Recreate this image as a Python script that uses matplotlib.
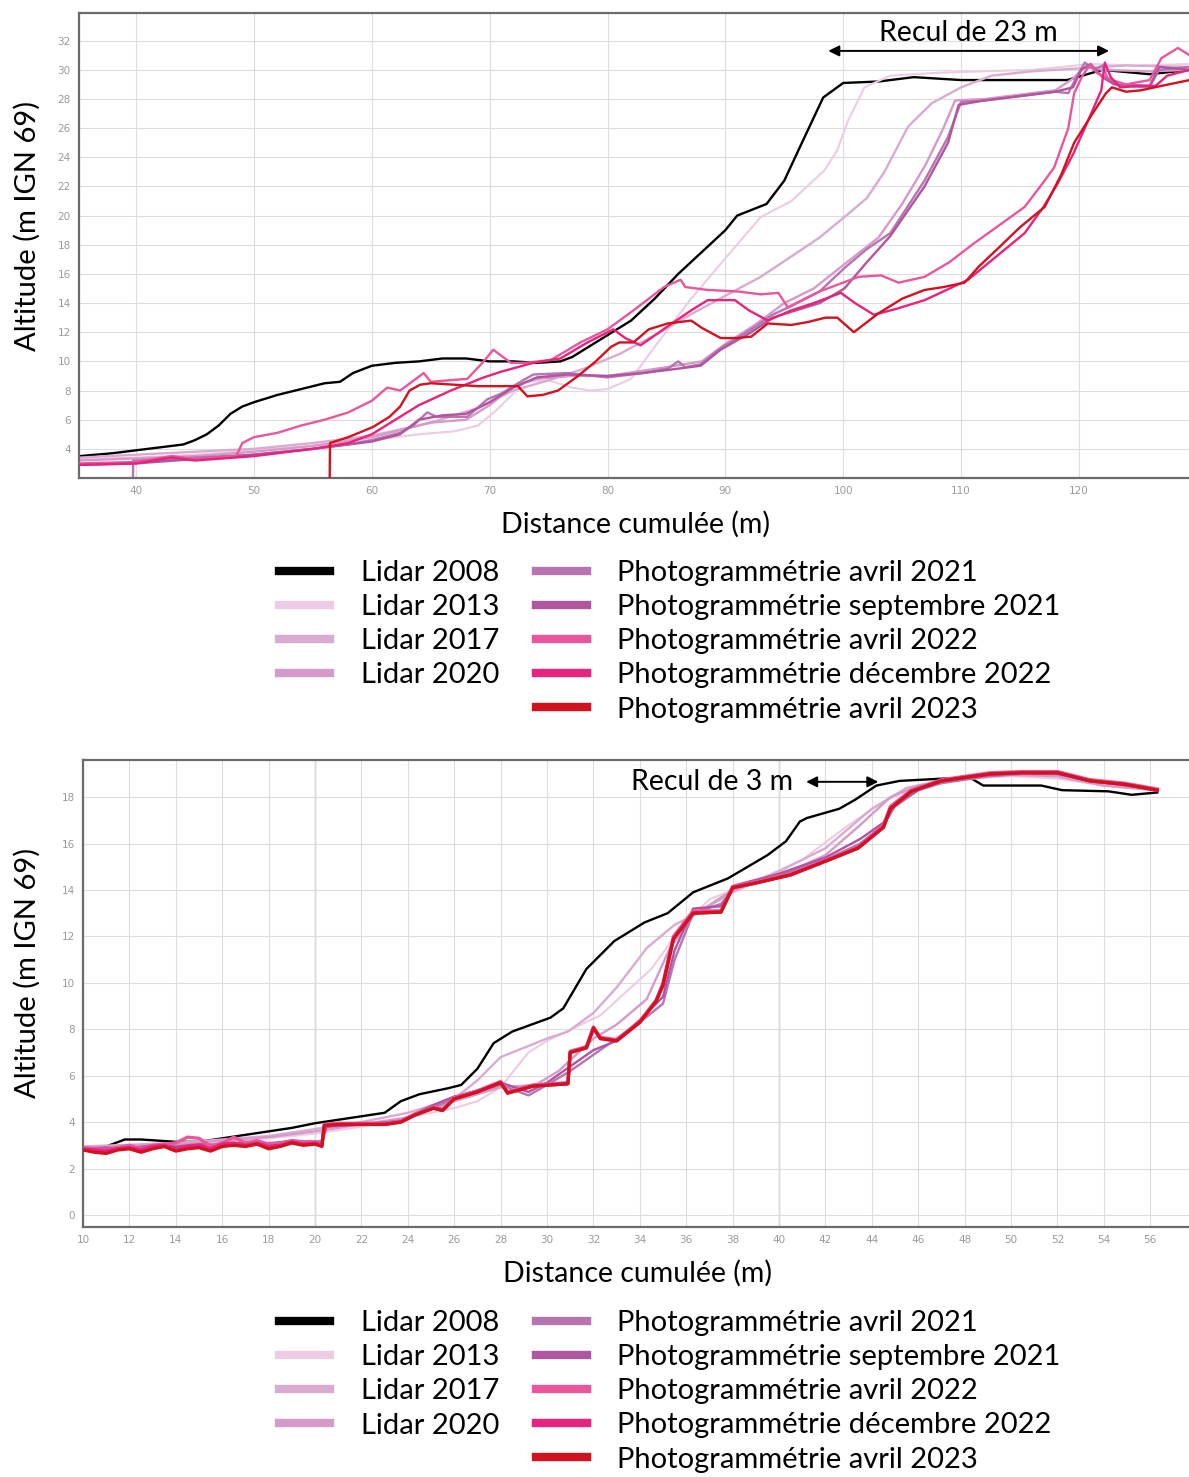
import numpy as np
import matplotlib.pyplot as plt
from matplotlib.lines import Line2D

plt.rcParams['font.family'] = ['Lato', 'DejaVu Sans']

# --- series names / colours -------------------------------------------------
names = ["Lidar 2008", "Lidar 2013", "Lidar 2017", "Lidar 2020",
         "Photogrammétrie avril 2021", "Photogrammétrie septembre 2021",
         "Photogrammétrie avril 2022", "Photogrammétrie décembre 2022",
         "Photogrammétrie avril 2023"]
colors = ["#000000", "#EDCBE2", "#DAAAD0", "#D69AC8",
          "#B873B1", "#B0559F", "#EA569B", "#E8227D", "#D2121F"]

# --- top profile (Distance cumulée 35 - 129 m) ------------------------------
top_x_2008 = [35.2, 38, 40, 42, 44, 45, 46, 47, 48, 49, 50, 52, 54, 56, 57.3, 58.4, 60, 62, 64, 66,
              68, 70, 72, 74, 76, 77, 78, 80, 82, 84, 86, 88, 90, 91, 93.5, 95, 96.5, 98.3, 100,
              103, 106, 110, 115, 119, 122, 126, 129.4]
top_y_2008 = [3.5, 3.7, 3.9, 4.1, 4.3, 4.6, 5.0, 5.6, 6.4, 6.9, 7.2, 7.7, 8.1, 8.5, 8.6, 9.2, 9.7,
              9.9, 10.0, 10.2, 10.2, 10.0, 10.0, 9.9, 10.0, 10.3, 10.8, 11.8, 12.8, 14.3, 16.0, 17.5,
              19.0, 20.0, 20.8, 22.4, 25.0, 28.1, 29.1, 29.2, 29.5, 29.3, 29.3, 29.3, 30.0, 29.7, 30.0]

top_x_2013 = [35.2, 40, 45, 50, 55, 60, 64, 67, 69, 70.5, 72, 73, 75, 77, 78.5, 80, 82, 84, 87,
              89.6, 93, 95.6, 98.4, 99.5, 100.4, 101.8, 104, 108, 112, 116, 121, 125, 129.4]
top_y_2013 = [3.3, 3.4, 3.6, 3.9, 4.2, 4.6, 5.0, 5.2, 5.6, 6.6, 7.8, 8.6, 8.7, 8.2, 8.0, 8.1, 8.8,
              11.0, 14.2, 16.7, 19.9, 21.0, 23.1, 24.5, 26.5, 28.8, 29.6, 29.8, 29.9, 30.0, 30.4,
              30.3, 30.4]

top_x_2017 = [35.2, 40, 45, 50, 55, 60, 65, 69, 72, 75, 78, 81, 84, 87, 90, 93, 95.6, 98, 100.1,
              102, 103.5, 105.5, 107.5, 110, 112.6, 116, 120, 124, 129.4]
top_y_2017 = [3.4, 3.6, 3.8, 4.0, 4.4, 4.9, 5.8, 6.8, 8.0, 8.7, 9.5, 10.5, 11.8, 13.2, 14.5, 15.8,
              17.2, 18.5, 19.9, 21.2, 23.0, 26.1, 27.7, 28.8, 29.6, 29.9, 30.1, 30.3, 30.2]

top_x_2020 = [35.2, 45, 50, 55, 60, 65, 68, 70, 72, 74, 77, 80, 85, 88, 90, 92.5, 95, 97.5, 100,
              103, 105, 107, 108.5, 109.5, 112, 115, 118, 119.5, 120.5, 122, 126, 129.4]
top_y_2020 = [3.2, 3.5, 3.8, 4.2, 4.8, 5.8, 6.0, 7.0, 8.3, 8.8, 9.0, 9.0, 9.6, 10.0, 11.2, 12.5,
              14.0, 15.0, 16.6, 18.5, 20.8, 23.5, 26.0, 27.9, 28.0, 28.3, 28.6, 29.4, 30.2, 30.0,
              29.9, 30.0]

top_x_a2021 = [39.7, 39.75, 42, 45, 50, 55, 58, 60, 62.4, 63.5, 64.7, 65.5, 68.1, 69.8, 71, 72.4,
               73.7, 76.6, 80, 83, 85.1, 86, 86.6, 87.9, 89.6, 92.2, 94, 95.6, 98, 100.1, 102, 104,
               106.9, 108.9, 110, 112, 114, 116, 118, 119.1, 119.8, 120.5, 121.3, 122, 122.5,
               123.5, 126, 126.8, 129.4]
top_y_a2021 = [0.0, 3.2, 3.25, 3.4, 3.6, 4.0, 4.3, 4.6, 5.1, 5.6, 6.5, 6.2, 6.2, 7.4, 7.8, 8.5,
               9.1, 9.2, 8.9, 9.2, 9.5, 10.0, 9.6, 9.8, 10.9, 12.2, 13.2, 13.8, 14.8, 16.4, 17.7,
               18.8, 22.4, 25.4, 27.8, 27.9, 28.1, 28.3, 28.5, 28.4, 29.5, 30.5, 30.0, 30.3, 29.3,
               28.9, 28.8, 30.0, 30.2]

top_x_s2021 = [35.2, 40, 45, 50, 55, 60, 62.4, 64, 66, 68, 70, 72, 74, 76.6, 80, 83, 85, 87.9,
               89.6, 92.2, 94, 95.6, 98, 100.1, 102, 104, 106.9, 108.9, 109.8, 112, 115, 118,
               119.5, 120.2, 121, 122, 123, 126, 126.8, 129.4]
top_y_s2021 = [2.9, 3.0, 3.3, 3.6, 4.0, 4.5, 5.0, 6.0, 6.3, 6.4, 7.2, 8.2, 8.9, 9.1, 9.0, 9.2, 9.4,
               9.7, 10.8, 12.0, 13.0, 13.4, 14.0, 15.0, 16.8, 18.6, 22.0, 25.0, 27.6, 27.9, 28.2,
               28.5, 28.8, 30.0, 30.4, 29.5, 29.0, 28.9, 30.2, 30.0]

top_x_a2022 = [35.2, 40, 43, 45, 48.5, 49, 50, 52, 54, 56, 58, 60, 61.3, 62.4, 64.4, 65, 66.5, 68.1,
               69.5, 70.3, 71.8, 73, 75.2, 77.7, 80, 82.2, 84.8, 86.2, 86.6, 88.5, 91, 93, 94.5,
               95.3, 96.5, 98, 101.3, 103.2, 104.7, 106.9, 109, 111.1, 113, 115.4, 117, 117.9,
               119.1, 119.6, 120.3, 121, 121.5, 122.8, 124, 126, 127, 128.4, 129.4]
top_y_a2022 = [3.0, 3.1, 3.5, 3.3, 3.5, 4.4, 4.8, 5.1, 5.6, 6.0, 6.5, 7.3, 8.2, 8.0, 9.2, 8.6, 8.7,
               8.8, 10.0, 10.8, 9.9, 9.9, 10.1, 11.3, 12.2, 13.5, 15.1, 15.6, 15.1, 14.9, 14.8,
               14.6, 14.7, 13.7, 14.2, 14.8, 15.8, 15.9, 15.4, 15.8, 16.8, 18.1, 19.2, 20.6, 22.3,
               23.3, 26.0, 28.4, 29.6, 30.4, 29.8, 29.3, 29.0, 29.3, 30.8, 31.5, 31.0]

top_x_d2022 = [35.2, 40, 43, 45, 50, 55, 58, 60, 62.4, 64, 66.7, 69.5, 71, 73.7, 76, 78.3, 80.5,
               81.5, 82.8, 85.1, 87.1, 88.5, 90.8, 92, 93.6, 95.6, 97.5, 99.8, 101, 102.6, 104.5,
               106.9, 108.5, 110.6, 113, 115.4, 117, 118.2, 119.5, 120.5, 121.9, 122.2, 122.7,
               123.5, 125, 126.5, 127.5, 129.4]
top_y_d2022 = [2.9, 3.0, 3.4, 3.2, 3.5, 4.0, 4.4, 5.0, 6.2, 7.0, 8.0, 8.9, 9.3, 9.9, 10.2, 11.3,
               12.2, 11.6, 11.1, 12.4, 13.5, 14.2, 14.2, 13.5, 12.8, 13.5, 14.0, 14.7, 14.0, 13.2,
               13.6, 14.2, 14.8, 15.6, 17.2, 18.8, 20.6, 22.2, 24.2, 26.0, 28.6, 30.5, 29.5, 28.8,
               28.9, 28.9, 29.6, 30.0]

top_x_a2023 = [56.4, 56.45, 58, 60.1, 61.5, 62.4, 63.2, 64.1, 65, 67, 69, 70.5, 72.4, 73.2, 74.5,
               75.8, 77.5, 79, 80.3, 81, 82.2, 83.5, 85.1, 87.1, 88, 89.6, 91, 92.2, 93.6, 95.6,
               97, 98.5, 99.5, 100.9, 103, 105, 106.9, 108.5, 110.3, 111.5, 113.2, 115, 117.1,
               118.5, 119.6, 121, 122.3, 122.8, 124, 125.3, 127, 129.4]
top_y_a2023 = [0.0, 4.4, 4.8, 5.5, 6.2, 6.9, 8.0, 8.4, 8.5, 8.4, 8.3, 8.3, 8.3, 7.6, 7.7, 8.0, 9.0,
               10.0, 11.0, 11.3, 11.3, 12.2, 12.6, 12.8, 12.3, 11.6, 11.6, 11.7, 12.6, 12.5, 12.7,
               13.0, 13.0, 12.0, 13.3, 14.3, 14.9, 15.1, 15.4, 16.5, 17.8, 19.2, 20.6, 22.8, 25.0,
               26.8, 28.4, 28.8, 28.5, 28.6, 28.9, 29.3]

# --- bottom profile (Distance cumulée 10 - 57 m) ----------------------------
bot_x_2008 = [10, 11, 11.8, 12.5, 14, 15, 16, 17, 18, 19, 20, 21, 22, 23, 23.7, 24.5, 25.7, 26.3,
              27, 27.7, 28.5, 30.15, 30.7, 31.7, 32.9, 34.2, 35.2, 36.3, 37.8, 39.5, 40.3, 40.9,
              41.2, 42.6, 43.3, 44.2, 45.2, 47.1, 48.3, 48.8, 51.3, 52.2, 54.2, 55.2, 56.3]
bot_y_2008 = [2.9, 2.95, 3.25, 3.25, 3.15, 3.15, 3.3, 3.45, 3.6, 3.75, 3.95, 4.1, 4.25, 4.4, 4.9,
              5.2, 5.45, 5.6, 6.3, 7.4, 7.9, 8.5, 8.9, 10.6, 11.8, 12.6, 13.0, 13.9, 14.5, 15.5,
              16.1, 16.95, 17.1, 17.5, 17.9, 18.5, 18.7, 18.8, 18.8, 18.5, 18.5, 18.3, 18.25,
              18.1, 18.2]

bot_x_2013 = [10, 14, 18, 20, 22, 24, 26, 27, 28, 29.2, 30, 32.3, 34.5, 35.8, 37, 39, 41, 43,
              44.5, 46, 48, 50, 52, 54, 56.3]
bot_y_2013 = [2.9, 3.0, 3.3, 3.5, 3.8, 4.2, 4.6, 4.9, 5.5, 7.0, 7.5, 8.6, 10.6, 12.4, 13.6, 14.4,
              15.3, 16.8, 17.8, 18.5, 18.8, 18.9, 18.8, 18.5, 18.3]

bot_x_2017 = [10, 14, 18, 20, 22, 24, 26, 27, 28, 30, 30.9, 32, 33, 34.3, 35.5, 36.3, 38, 40, 42,
              44, 45.5, 47, 50, 52, 54, 56.3]
bot_y_2017 = [2.95, 3.1, 3.4, 3.7, 4.0, 4.4, 5.0, 5.8, 6.8, 7.6, 7.9, 8.7, 9.8, 11.5, 12.5, 12.9,
              13.9, 14.8, 15.8, 17.5, 18.4, 18.7, 18.95, 18.9, 18.5, 18.3]

bot_x_2020 = [10, 14, 18, 20, 22, 24, 26, 28, 29.5, 30.5, 32, 33, 34.3, 35.3, 36.3, 38, 40, 42,
              43.5, 44.8, 46, 48, 50, 52, 54, 56.3]
bot_y_2020 = [2.9, 3.05, 3.35, 3.6, 3.9, 4.2, 4.9, 5.5, 5.6, 6.2, 7.6, 8.2, 9.3, 11.5, 12.9, 14.0,
              14.6, 15.5, 16.8, 18.0, 18.5, 18.8, 19.0, 18.9, 18.5, 18.3]

bot_x_a2021 = [10, 11, 12, 13, 14, 15, 16, 17, 18, 19, 20, 20.3, 20.5, 22, 23.7, 25, 26, 27, 28,
               29.2, 30, 31, 32, 33, 34, 35, 35.5, 36.3, 37.5, 38.1, 40, 42, 43.5, 44.5, 45, 46,
               47, 49, 50.5, 52, 53.4, 55, 56.3]
bot_y_a2021 = [2.8, 2.85, 2.9, 2.95, 2.9, 3.0, 3.05, 3.1, 3.1, 3.15, 3.15, 3.2, 3.85, 3.9, 4.0,
               4.6, 5.0, 5.3, 5.6, 5.15, 5.6, 6.2, 6.9, 7.6, 8.3, 9.1, 11.0, 13.0, 13.4, 14.1,
               14.6, 15.3, 16.0, 16.8, 17.6, 18.3, 18.6, 18.9, 19.0, 19.0, 18.7, 18.5, 18.3]

bot_x_s2021 = [10, 11, 12, 13, 14, 15, 16, 17, 18, 19, 20, 20.3, 20.5, 22, 23.7, 25, 26, 27, 28,
               29.2, 30, 31, 32, 33, 34, 35, 35.5, 36.3, 37.5, 38.1, 40, 42, 43.5, 44.5, 45, 46,
               47, 49, 50.5, 52, 53.4, 55, 56.3]
bot_y_s2021 = [2.85, 2.9, 2.85, 3.0, 2.95, 3.05, 3.0, 3.15, 3.05, 3.2, 3.1, 3.15, 3.8, 3.9, 4.05,
               4.7, 5.1, 5.35, 5.7, 5.3, 5.7, 6.4, 7.1, 7.5, 8.4, 9.4, 11.4, 13.2, 13.3, 14.2,
               14.7, 15.4, 16.2, 16.9, 17.7, 18.3, 18.7, 18.95, 19.05, 19.0, 18.75, 18.5, 18.35]

bot_x_a2022 = [10, 10.5, 11, 11.5, 12, 12.5, 13, 13.5, 14, 14.5, 15, 15.5, 16, 16.5, 17, 17.5, 18,
               18.5, 19, 19.5, 20, 20.3, 20.4, 21, 22, 23, 23.7, 24.3, 25.1, 25.5, 26, 27, 28,
               28.3, 29.4, 30.9, 31.0, 31.7, 32.0, 32.3, 33.0, 34.0, 34.7, 35.0, 35.45, 36.3,
               37.5, 38.0, 39.0, 40.5, 41.9, 43.4, 44.5, 44.8, 45.7, 47.0, 49.1, 50.5, 52.0, 53.4,
               54.9, 56.3]
bot_y_a2022 = [2.9, 2.85, 2.8, 2.9, 3.0, 2.85, 3.0, 3.05, 3.1, 3.35, 3.3, 2.95, 3.1, 3.35, 3.1,
               3.2, 3.05, 3.1, 3.2, 3.15, 3.15, 3.1, 3.9, 3.95, 3.95, 3.95, 4.05, 4.35, 4.65, 4.55,
               5.05, 5.35, 5.75, 5.3, 5.6, 5.7, 7.05, 7.25, 8.1, 7.65, 7.55, 8.35, 9.25, 10.0,
               12.0, 13.1, 13.1, 14.15, 14.35, 14.7, 15.25, 15.85, 16.8, 17.6, 18.3, 18.75, 19.05,
               19.1, 19.1, 18.75, 18.6, 18.35]

bot_x_d2022 = [10, 10.5, 11, 11.5, 12, 12.5, 13, 13.5, 14, 14.5, 15, 15.5, 16, 16.5, 17, 17.5, 18,
               18.5, 19, 19.5, 20, 20.3, 20.4, 21, 22, 23, 23.7, 24.3, 25.1, 25.5, 26, 27, 28,
               28.3, 29.4, 30.9, 31.0, 31.7, 32.0, 32.3, 33.0, 34.0, 34.7, 35.0, 35.45, 36.3,
               37.5, 38.0, 39.0, 40.5, 41.9, 43.4, 44.5, 44.8, 45.7, 47.0, 49.1, 50.5, 52.0, 53.4,
               54.9, 56.3]
bot_y_d2022 = [2.85, 2.8, 2.75, 2.85, 2.9, 2.8, 2.95, 3.0, 2.85, 2.95, 3.0, 2.85, 3.05, 3.1, 3.0,
               3.1, 2.95, 3.0, 3.15, 3.05, 3.1, 3.0, 3.85, 3.9, 3.9, 3.9, 4.0, 4.3, 4.6, 4.5, 5.0,
               5.3, 5.7, 5.25, 5.55, 5.65, 7.0, 7.2, 8.05, 7.6, 7.5, 8.3, 9.2, 9.9, 11.9, 13.0,
               13.05, 14.1, 14.3, 14.65, 15.2, 15.8, 16.7, 17.5, 18.25, 18.7, 19.0, 19.05, 19.05,
               18.7, 18.55, 18.3]

bot_x_a2023 = [10, 10.5, 11, 11.5, 12, 12.5, 13, 13.5, 14, 14.5, 15, 15.5, 16, 16.5, 17, 17.5, 18,
               18.5, 19, 19.5, 20, 20.3, 20.4, 21, 22, 23, 23.7, 24.3, 25.1, 25.5, 26, 27, 28,
               28.3, 29.4, 30.9, 31.0, 31.7, 32.0, 32.3, 33.0, 34.0, 34.7, 35.0, 35.45, 36.3,
               37.5, 38.0, 39.0, 40.5, 41.9, 43.4, 44.5, 44.8, 45.7, 47.0, 49.1, 50.5, 52.0, 53.4,
               54.9, 56.3]
bot_y_a2023 = [2.8, 2.7, 2.65, 2.8, 2.85, 2.7, 2.85, 2.95, 2.75, 2.85, 2.9, 2.75, 2.95, 3.0, 2.95,
               3.05, 2.85, 2.95, 3.1, 3.0, 3.05, 2.95, 3.85, 3.9, 3.9, 3.9, 4.0, 4.3, 4.6, 4.5, 5.0,
               5.3, 5.7, 5.25, 5.55, 5.65, 7.0, 7.2, 8.05, 7.6, 7.5, 8.3, 9.2, 9.9, 11.9, 13.0,
               13.05, 14.1, 14.3, 14.65, 15.2, 15.8, 16.7, 17.5, 18.25, 18.7, 19.0, 19.05, 19.05,
               18.7, 18.55, 18.3]

top_series = [(top_x_2008, top_y_2008), (top_x_2013, top_y_2013), (top_x_2017, top_y_2017),
              (top_x_2020, top_y_2020), (top_x_a2021, top_y_a2021), (top_x_s2021, top_y_s2021),
              (top_x_a2022, top_y_a2022), (top_x_d2022, top_y_d2022), (top_x_a2023, top_y_a2023)]
bot_series = [(bot_x_2008, bot_y_2008), (bot_x_2013, bot_y_2013), (bot_x_2017, bot_y_2017),
              (bot_x_2020, bot_y_2020), (bot_x_a2021, bot_y_a2021), (bot_x_s2021, bot_y_s2021),
              (bot_x_a2022, bot_y_a2022), (bot_x_d2022, bot_y_d2022), (bot_x_a2023, bot_y_a2023)]

W, H = 1189, 1477
fig = plt.figure(figsize=(W / 100, H / 100), dpi=100)

def px_axes(left, top, right, bottom):
    return fig.add_axes([left / W, 1 - bottom / H, (right - left) / W, (bottom - top) / H])

def style_axes(ax, ylab_x):
    for s in ['left', 'top', 'bottom']:
        ax.spines[s].set_color('#6b6b6b')
        ax.spines[s].set_linewidth(1.6)
    ax.spines['right'].set_visible(False)
    ax.tick_params(length=0, labelsize=7.5, labelcolor='#9a9a9a', pad=6)
    for lab in ax.get_xticklabels() + ax.get_yticklabels():
        lab.set_family('DejaVu Sans')
    ax.grid(True, color='#dcdcdc', lw=0.8)
    ax.set_axisbelow(True)
    ax.set_ylabel("Altitude (m IGN 69)", fontsize=21)
    ax.yaxis.set_label_coords(ylab_x, 0.543)
    ax.set_xlabel("Distance cumulée (m)", fontsize=20.5)
    ax.xaxis.set_label_coords(0.5, -0.071)

# draw order: light lidars first, black last
order = [1, 2, 3, 4, 5, 6, 7, 8, 0]

# ---------------- top chart
ax1 = px_axes(79, 13, 1192, 478)
for i in order:
    x, y = top_series[i]
    ax1.plot(x, y, color=colors[i], lw=1.7 if i != 1 else 1.5, zorder=2 + i / 10)
ax1.set_xlim(35.15, 129.6)
ax1.set_ylim(2.0, 33.9)
ax1.set_xticks(np.arange(40, 121, 10))
ax1.set_yticks(np.arange(4, 33, 2))
style_axes(ax1, -0.034)
ax1.annotate('', xy=(122.8, 31.3), xytext=(98.5, 31.3),
             arrowprops=dict(arrowstyle='<|-|>', color='black', lw=1.4, mutation_scale=16))
ax1.text(110.6, 32.55, "Recul de 23 m", ha='center', va='center', fontsize=20.5)

# ---------------- bottom chart
ax2 = px_axes(83, 760, 1192, 1227)
for i in order:
    x, y = bot_series[i]
    lw = 2.4 if i >= 6 else (1.7 if i != 1 else 1.5)
    ax2.plot(x, y, color=colors[i], lw=lw, zorder=2 + i / 10)
ax2.set_xlim(10, 57.8)
ax2.set_ylim(-0.52, 19.6)
ax2.set_xticks(np.arange(10, 57, 2))
ax2.set_yticks(np.arange(0, 19, 2))
style_axes(ax2, -0.038)
for xv in (20, 40):
    ax2.axvline(xv, color='#b5b5b5', lw=1.0, zorder=0.5)
ax2.annotate('', xy=(44.4, 18.66), xytext=(41.05, 18.66),
             arrowprops=dict(arrowstyle='<|-|>', color='black', lw=1.4, mutation_scale=16))
ax2.text(40.6, 18.66, "Recul de 3 m", ha='right', va='center', fontsize=20.5)

# ---------------- legends
def make_legend(top_px):
    handles = [Line2D([], [], color=colors[i], lw=6) for i in range(4)]
    handles.append(Line2D([], [], color='none', lw=0))
    handles += [Line2D([], [], color=colors[i], lw=6) for i in range(4, 9)]
    labels = names[:4] + [''] + names[4:]
    fig.legend(handles, labels, loc='upper left', bbox_to_anchor=(279 / W, 1 - top_px / H),
               ncol=2, frameon=False, fontsize=21, handlelength=1.75, handletextpad=1.05,
               columnspacing=1.25, labelspacing=0.28, borderaxespad=0, borderpad=0)

make_legend(560)
make_legend(1310)

fig.savefig('out.png', dpi=100)
